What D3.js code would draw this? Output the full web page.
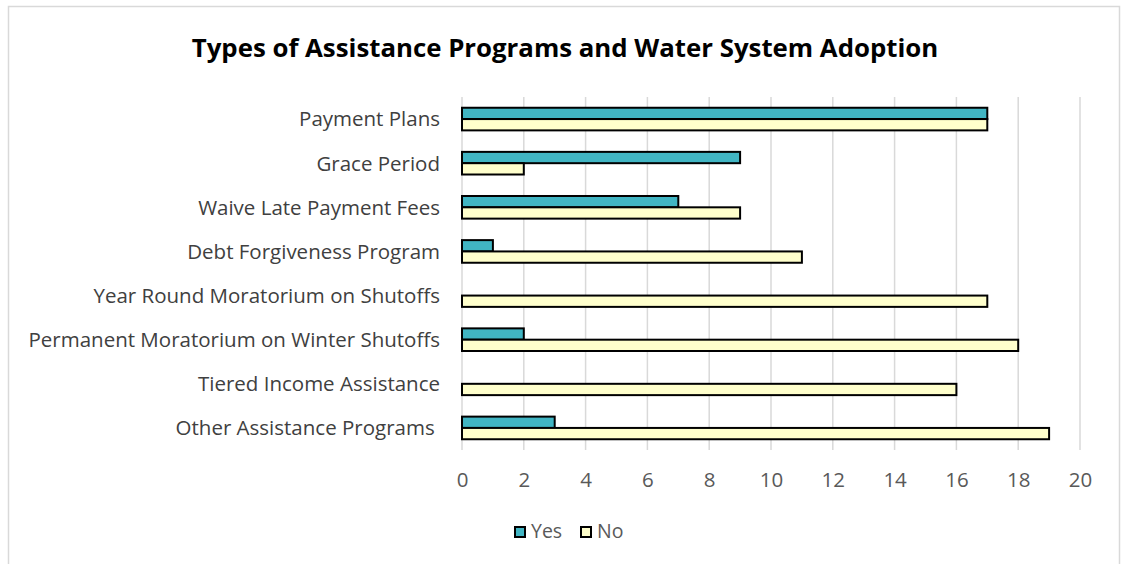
<!DOCTYPE html>
<html>
<head>
<meta charset="utf-8">
<script src="https://cdn.jsdelivr.net/npm/d3@7"></script>
<style>
  html, body { margin: 0; padding: 0; background: #fff; }
  svg { display: block; }
</style>
</head>
<body>
<svg id="chart" width="1121" height="564"></svg>
<script>
// Programs and how many water systems said Yes / No to each
const categories = [
  "Payment Plans",
  "Grace Period",
  "Waive Late Payment Fees",
  "Debt Forgiveness Program",
  "Year Round Moratorium on Shutoffs",
  "Permanent Moratorium on Winter Shutoffs",
  "Tiered Income Assistance",
  "Other Assistance Programs "
];
const yesValues = [17, 9, 7, 1, 0, 2, 0, 3];
const noValues  = [17, 2, 9, 11, 17, 18, 16, 19];
const seriesNames = ["Yes", "No"];
const seriesColors = ["#41B5C3", "#FFFFCC"];
const xTicks = [0, 2, 4, 6, 8, 10, 12, 14, 16, 18, 20];
const chartTitle = "Types of Assistance Programs and Water System Adoption";

const font = "'Open Sans', 'Noto Sans', sans-serif";
const svg = d3.select("#chart");

// outer frame
svg.append("rect")
  .attr("x", 8.5).attr("y", 6.5)
  .attr("width", 1111).attr("height", 600)
  .attr("fill", "#fff").attr("stroke", "#D9D9D9").attr("stroke-width", 1.5);

const plot = { left: 462, right: 1080, top: 97, bottom: 450 };

const x = d3.scaleLinear().domain([0, 20]).range([plot.left, plot.right]);
const y = d3.scaleBand().domain(categories).range([plot.top, plot.bottom]);
const inner = d3.scaleBand().domain(seriesNames).range([0, y.bandwidth()]).paddingOuter(0.95);

// title
svg.append("text")
  .attr("x", 565).attr("y", 57)
  .attr("text-anchor", "middle")
  .attr("font-family", font).attr("font-weight", "bold")
  .attr("font-size", 25.8).attr("fill", "#000")
  .text(chartTitle);

// vertical gridlines
svg.append("g")
  .selectAll("line")
  .data(xTicks)
  .join("line")
  .attr("x1", d => x(d)).attr("x2", d => x(d))
  .attr("y1", plot.top).attr("y2", plot.bottom)
  .attr("stroke", "#D9D9D9").attr("stroke-width", 1.5);

// x axis tick labels
const xAxis = d3.axisBottom(x).tickValues(xTicks).tickSize(0).tickPadding(0);
const gx = svg.append("g")
  .attr("transform", `translate(0,${plot.bottom})`)
  .call(xAxis);
gx.select(".domain").remove();
gx.selectAll("text")
  .attr("y", 37)
  .attr("dy", 0)
  .attr("font-family", font).attr("font-size", 20.5)
  .attr("fill", "#595959");

// category labels
const yAxis = d3.axisLeft(y).tickSize(0).tickPadding(0);
const gy = svg.append("g")
  .attr("transform", `translate(${plot.left},0)`)
  .call(yAxis);
gy.select(".domain").remove();
gy.selectAll("text")
  .attr("x", -22)
  .attr("dy", "0.36em")
  .attr("font-family", font).attr("font-size", 20.5)
  .attr("fill", "#404040")
  .style("white-space", "pre");

// bars
const rows = categories.map((c, i) => ({ cat: c, vals: [yesValues[i], noValues[i]] }));
const groups = svg.append("g")
  .selectAll("g")
  .data(rows)
  .join("g")
  .attr("transform", d => `translate(0,${y(d.cat)})`);

groups.selectAll("rect")
  .data(d => d.vals.map((v, j) => ({ name: seriesNames[j], v, j })))
  .join("rect")
  .attr("x", x(0))
  .attr("y", d => inner(d.name))
  .attr("width", d => x(d.v) - x(0))
  .attr("height", inner.bandwidth())
  .attr("fill", d => seriesColors[d.j])
  .attr("stroke", "#000")
  .attr("stroke-width", 2);

// legend
const legend = svg.append("g").attr("transform", "translate(514,526)");
const items = [
  { name: seriesNames[0], color: seriesColors[0], x: 0 },
  { name: seriesNames[1], color: seriesColors[1], x: 66 }
];
const li = legend.selectAll("g").data(items).join("g")
  .attr("transform", d => `translate(${d.x},0)`);
li.append("rect")
  .attr("x", 1).attr("y", 1)
  .attr("width", 10).attr("height", 10)
  .attr("fill", d => d.color).attr("stroke", "#000").attr("stroke-width", 2);
li.append("text")
  .attr("x", 17).attr("y", 12)
  .attr("font-family", font).attr("font-size", 19.5)
  .attr("fill", "#595959")
  .text(d => d.name);
</script>
</body>
</html>
